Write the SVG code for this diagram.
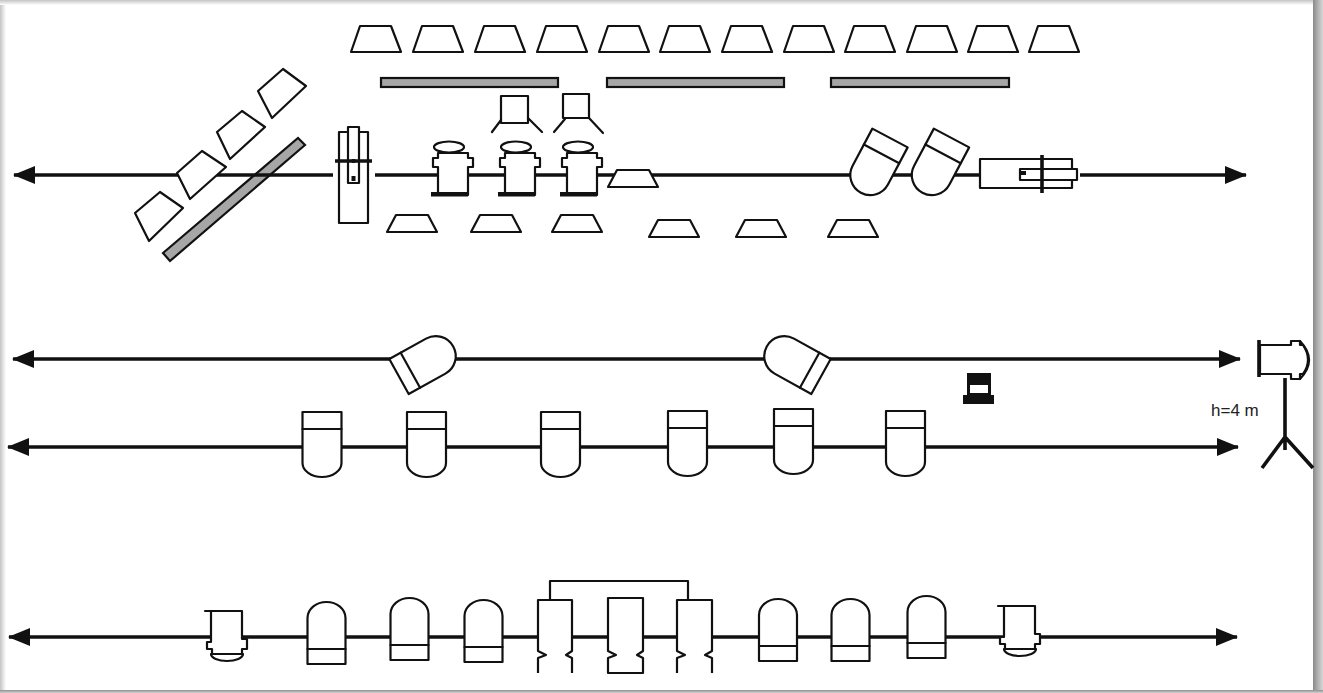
<svg xmlns="http://www.w3.org/2000/svg" xmlns:xlink="http://www.w3.org/1999/xlink" width="1323" height="693" viewBox="0 0 1323 693">
<style>
.o{fill:#fff;stroke:#111;stroke-width:2.2;stroke-linejoin:round}
.n{fill:none;stroke:#111;stroke-width:2.2;stroke-linecap:round;stroke-linejoin:round}
.g{fill:#a6a6a6;stroke:#111;stroke-width:2.2}
.k{fill:#111;stroke:none}
.b{fill:none;stroke:#111;stroke-width:3.6}
.line{fill:none;stroke:#111;stroke-width:3.4}
text{font-family:"Liberation Sans",Arial,sans-serif;font-size:17px;fill:#222}
</style>
<defs>
<linearGradient id="gl" x1="0" x2="1" y1="0" y2="0"><stop offset="0" stop-color="#c4c4c4"/><stop offset="1" stop-color="#fff"/></linearGradient>
<linearGradient id="gt" x1="0" x2="0" y1="0" y2="1"><stop offset="0" stop-color="#c4c4c4"/><stop offset="1" stop-color="#fff"/></linearGradient>
<linearGradient id="gr" x1="0" x2="1" y1="0" y2="0"><stop offset="0" stop-color="#8a8a8a"/><stop offset="1" stop-color="#d8d8d8"/></linearGradient>
<linearGradient id="gb" x1="0" x2="0" y1="0" y2="1"><stop offset="0" stop-color="#909090"/><stop offset="1" stop-color="#d0d0d0"/></linearGradient>
<marker id="ah" viewBox="0 0 22 18" refX="21" refY="9" markerWidth="22" markerHeight="18" markerUnits="userSpaceOnUse" orient="auto-start-reverse"><path d="M0,0L22,9L0,18Z" fill="#111"/></marker>
<path id="tT" class="o" d="M9,0H40L50,26H0Z"/>
<path id="tL" class="o" d="M9,0H41L50,17H0Z"/>
<g id="f18"><path class="o" d="M-20,0L-20,-42A20,20 0 0 1 20,-42L20,0Z"/><path class="n" d="M-20,-18H20"/></g>
<g id="f13"><path class="o" d="M-20,0L-20,-42A20,20 0 0 1 20,-42L20,0Z"/><path class="n" d="M-20,-13H20"/></g>
<g id="f3"><path class="o" d="M-19.500,0V-51A19.500,14 0 0 1 19.500,-51V0Z"/><path class="n" d="M-19.500,-17H19.500"/></g>
<g id="f14"><path class="o" d="M-19,0V-46A19,16 0 0 1 19,-46V0Z"/><path class="n" d="M-19,-15H19"/></g>
<g id="spot">
<ellipse class="o" cx="16" cy="-6" rx="15" ry="5.500"/>
<path class="o" d="M5,0H35V5H40V14H35V42H5V14H0V5H5Z"/>
<path class="k" d="M-2,39H35V43.500H-2Z"/>
</g>
<g id="pro"><rect class="o" width="29" height="91"/><rect class="o" x="9" y="-5" width="11" height="56"/><path class="b" d="M-4,29H33"/><path class="b" d="M14.500,27V31"/><rect class="k" x="12.500" y="44" width="4" height="5"/></g>
<g id="sb">
<path class="o" d="M6,43A16,7 0 0 0 38,43Z"/>
<path class="o" d="M6,0H37V28H42V38H37V43H7V38H2V31H6Z"/>
<path class="n" d="M0,0H6"/>
</g>
</defs>

<g id="frame">
<rect width="1323" height="693" fill="#fff"/>
<rect x="0" y="0" width="6" height="693" fill="url(#gl)"/>
<rect x="0" y="0" width="1323" height="5" fill="url(#gt)"/>
<rect x="1313" y="0" width="10" height="693" fill="url(#gr)"/>
<rect x="0" y="690" width="1323" height="3" fill="url(#gb)"/>
</g>

<g id="bars">
<rect id="bar1" class="g" x="381" y="78" width="177" height="9"/>
<rect id="bar2" class="g" x="607" y="78" width="177" height="9"/>
<rect id="bar3" class="g" x="831" y="78" width="178" height="9"/>
<path id="bar4" class="g" d="M298,138L305,145L170,261L163,253Z"/>
</g>

<g id="connectors">
<path class="line" d="M14,175H333" marker-start="url(#ah)"/>
<path class="line" d="M375,175H1000"/>
<path class="line" d="M1080,175H1246" marker-end="url(#ah)"/>
<path class="line" d="M13,359H1240" marker-start="url(#ah)" marker-end="url(#ah)"/>
<path class="line" d="M8,447H1238" marker-start="url(#ah)" marker-end="url(#ah)"/>
<path class="line" d="M9,637H1237" marker-start="url(#ah)" marker-end="url(#ah)"/>
</g>

<g id="top-row">
<use id="t1" xlink:href="#tT" x="351" y="26"/>
<use id="t2" xlink:href="#tT" x="413" y="26"/>
<use id="t3" xlink:href="#tT" x="475" y="26"/>
<use id="t4" xlink:href="#tT" x="537" y="26"/>
<use id="t5" xlink:href="#tT" x="599" y="26"/>
<use id="t6" xlink:href="#tT" x="660" y="26"/>
<use id="t7" xlink:href="#tT" x="722" y="26"/>
<use id="t8" xlink:href="#tT" x="784" y="26"/>
<use id="t9" xlink:href="#tT" x="845" y="26"/>
<use id="t10" xlink:href="#tT" x="907" y="26"/>
<use id="t11" xlink:href="#tT" x="968" y="26"/>
<use id="t12" xlink:href="#tT" x="1029" y="26"/>
</g>

<g id="diag">
<path id="d1" class="o" d="M283,69L306,86L272,118L258,91Z"/>
<path id="d2" class="o" d="M242,111L265,127L230,159L217,132Z"/>
<path id="d3" class="o" d="M202,151L226,167L190,199L177,173Z"/>
<path id="d4" class="o" d="M160,192L183,208L149,241L135,213Z"/>
</g>

<g id="stands">
<g id="s1"><rect class="o" x="501" y="96" width="27" height="27"/><path class="n" d="M501,120L492,132M528,118L542,132"/></g>
<g id="s2"><rect class="o" x="563" y="94" width="26" height="24"/><path class="n" d="M565,119L554,132M589,118L603,133"/></g>
</g>

<use id="proj-left" xlink:href="#pro" x="339" y="132"/>
<use id="spot1" xlink:href="#spot" x="433" y="153"/>
<use id="spot2" xlink:href="#spot" x="500" y="153"/>
<use id="spot3" xlink:href="#spot" x="562" y="153"/>
<use id="center-t" xlink:href="#tL" x="608" y="170"/>

<g id="low-row">
<use id="l1" xlink:href="#tL" x="387" y="215"/>
<use id="l2" xlink:href="#tL" x="471" y="215"/>
<use id="l3" xlink:href="#tL" x="552" y="215"/>
<use id="l4" xlink:href="#tL" x="649" y="220"/>
<use id="l5" xlink:href="#tL" x="736" y="220"/>
<use id="l6" xlink:href="#tL" x="828" y="220"/>
</g>

<use id="fr1" xlink:href="#f18" transform="translate(890,138) rotate(208)"/>
<use id="fr2" xlink:href="#f18" transform="translate(951.500,138) rotate(208)"/>
<g id="proj-right">
<rect class="o" x="980" y="159" width="92" height="29"/>
<rect class="o" x="1020" y="169" width="57" height="11"/>
<path class="b" d="M1042,155V193"/>
<rect class="k" x="1021" y="171" width="5" height="4"/>
</g>

<use id="r2a" xlink:href="#f13" transform="translate(399,376.500) rotate(61)"/>
<use id="r2b" xlink:href="#f13" transform="translate(821,376.500) rotate(-61)"/>

<g id="laptop"><path class="k" d="M967,373H991V395H994V404H963V395H967Z"/><rect x="970" y="385" width="18" height="8" fill="#fff"/></g>

<use id="r3a" xlink:href="#f3" transform="translate(322,412) rotate(180)"/>
<use id="r3b" xlink:href="#f3" transform="translate(426.500,412) rotate(180)"/>
<use id="r3c" xlink:href="#f3" transform="translate(560.500,412) rotate(180)"/>
<use id="r3d" xlink:href="#f3" transform="translate(687.500,411) rotate(180)"/>
<use id="r3e" xlink:href="#f3" transform="translate(793.500,409) rotate(180)"/>
<use id="r3f" xlink:href="#f3" transform="translate(905.500,411) rotate(180)"/>

<use id="sb1" xlink:href="#sb" x="205" y="611"/>
<use id="sb2" xlink:href="#sb" x="998" y="606"/>

<use id="r4a" xlink:href="#f14" transform="translate(326.500,664)"/>
<use id="r4b" xlink:href="#f14" transform="translate(409.500,660)"/>
<use id="r4c" xlink:href="#f14" transform="translate(483.500,662)"/>
<use id="r4d" xlink:href="#f14" transform="translate(778,661)"/>
<use id="r4e" xlink:href="#f14" transform="translate(850.500,661)"/>
<use id="r4f" xlink:href="#f14" transform="translate(926.500,658)"/>

<g id="center-group">
<path class="n" d="M550,600V581H688V600"/>
<g id="c1"><path class="o" d="M538,673V658L546,655L538,651V600H572V651L566,655L572,658V673"/></g>
<g id="c2"><path class="o" d="M608,673V658L616,655L608,651V598H643V651L637,655L643,658V673Z"/></g>
<g id="c3"><path class="o" d="M677,673V658L685,655L677,651V600H712V651L705,655L712,658V673"/></g>
<path d="M536,674.500H574M675,674.500H714" stroke="#fff" stroke-width="3" fill="none"/>
</g>

<g id="tripod">
<path class="b" d="M1259,340V377"/>
<path class="o" d="M1260,345H1291V341H1300V345H1303Q1313,360 1303,374H1300V379H1291V374H1260Z"/>
<path class="n" d="M1300,341Q1318,360 1300,379"/>
<path class="b" d="M1285,378V450M1285,437L1262,468M1285,437L1313,468"/>
<text x="1211" y="416">h=4 m</text>
</g>
</svg>
